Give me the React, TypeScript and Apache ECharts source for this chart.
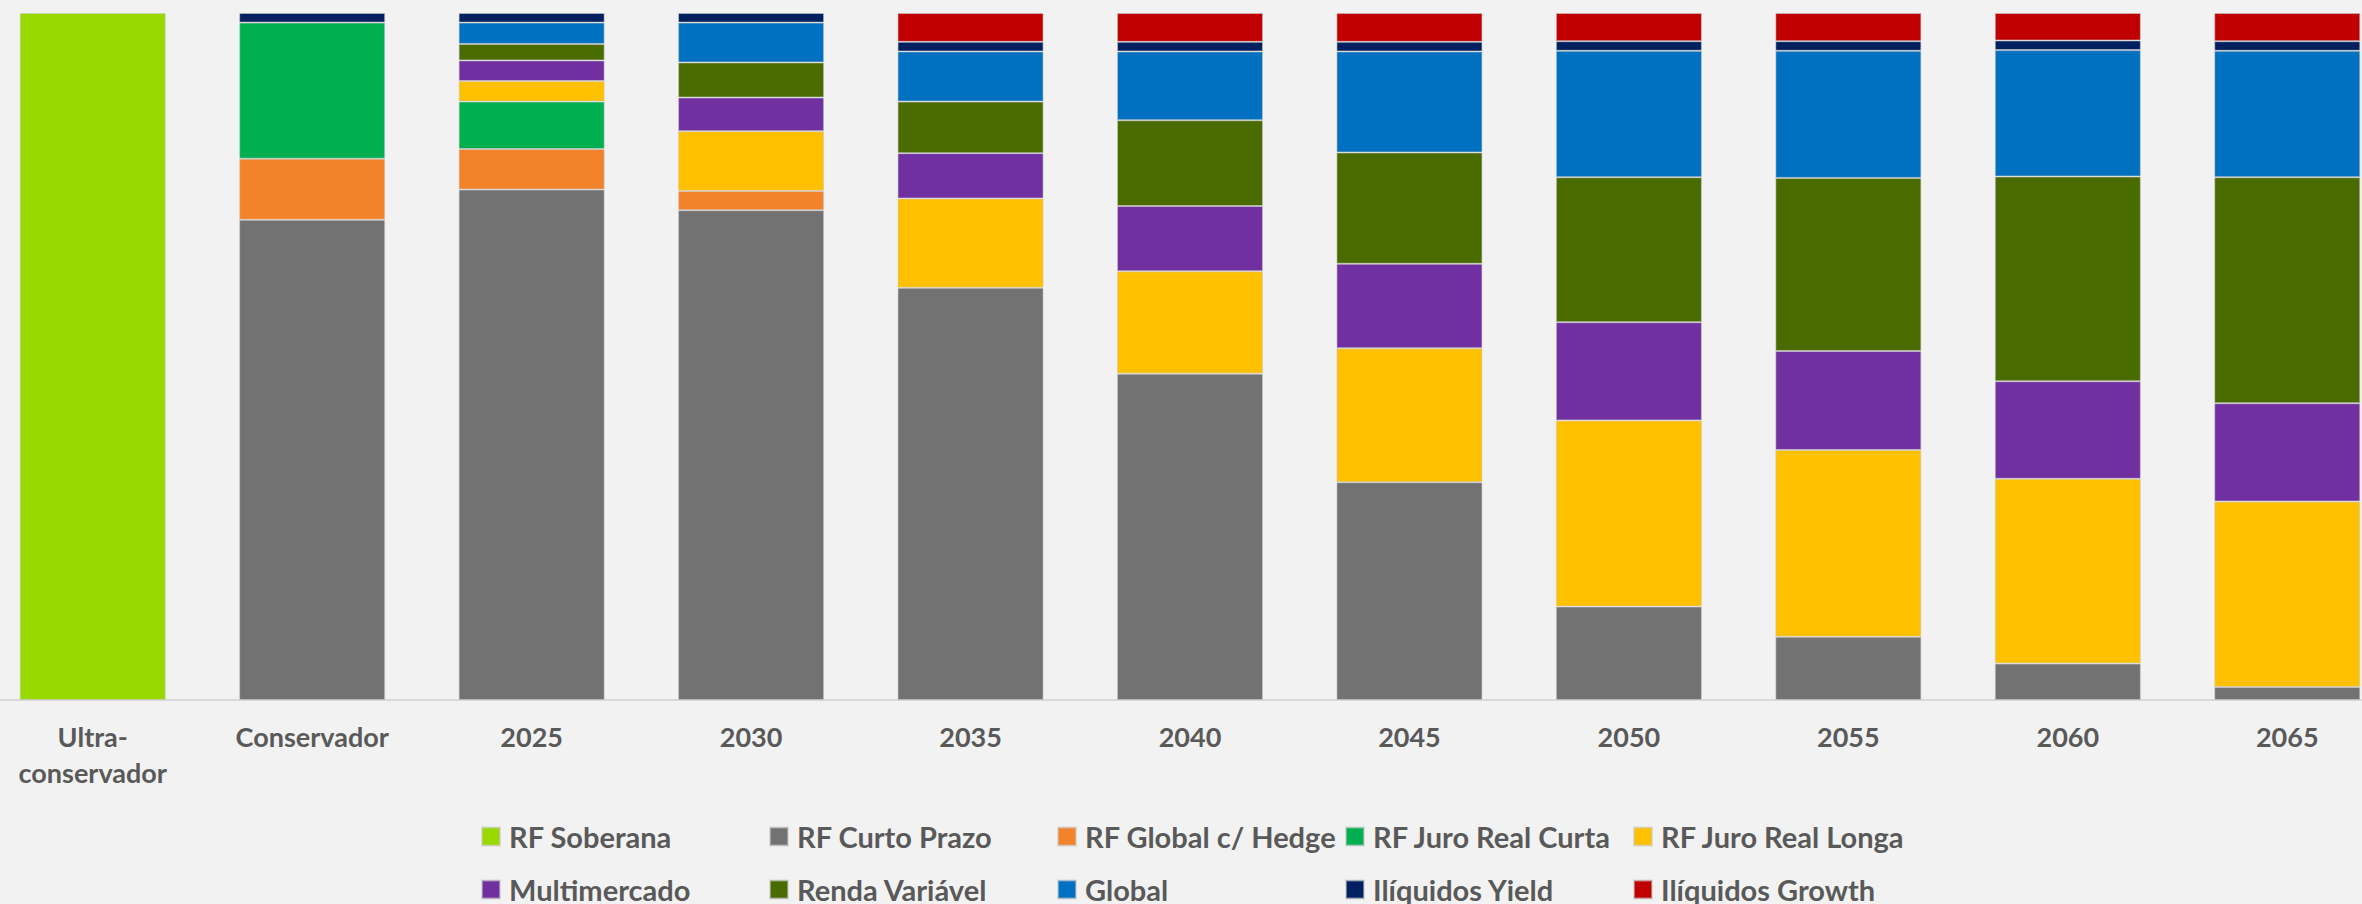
import React, { useEffect, useRef } from "react";
import * as echarts from "echarts";

const categories = ["Ultra-\nconservador", "Conservador", "2025", "2030", "2035", "2040", "2045", "2050", "2055", "2060", "2065"];

const seriesNames = [
  "RF Soberana",
  "RF Curto Prazo",
  "RF Global c/ Hedge",
  "RF Juro Real Curta",
  "RF Juro Real Longa",
  "Multimercado",
  "Renda Variável",
  "Global",
  "Ilíquidos Yield",
  "Ilíquidos Growth",
];

const colors = ["#99D900", "#727272", "#F2832A", "#00B050", "#FFC000", "#7030A0", "#4A6B00", "#0070C0", "#002060", "#C00000"];

const rfSoberana = [100, 0, 0, 0, 0, 0, 0, 0, 0, 0, 0];
const rfCurtoPrazo = [0, 69.9, 74.3, 71.3, 60.0, 47.5, 31.7, 13.6, 9.2, 5.3, 1.9];
const rfGlobalHedge = [0, 8.9, 5.9, 2.8, 0, 0, 0, 0, 0, 0, 0];
const rfJuroRealCurta = [0, 19.8, 6.9, 0, 0, 0, 0, 0, 0, 0, 0];
const rfJuroRealLonga = [0, 0, 3.0, 8.7, 13.0, 14.9, 19.5, 27.1, 27.2, 26.9, 27.0];
const multimercado = [0, 0, 3.0, 4.9, 6.6, 9.5, 12.3, 14.3, 14.4, 14.2, 14.3];
const rendaVariavel = [0, 0, 2.4, 5.1, 7.5, 12.5, 16.2, 21.1, 25.2, 29.8, 32.9];
const global = [0, 0, 3.1, 5.8, 7.3, 10.0, 14.7, 18.4, 18.5, 18.4, 18.4];
const iliquidosYield = [0, 1.4, 1.4, 1.4, 1.4, 1.4, 1.4, 1.4, 1.4, 1.4, 1.4];
const iliquidosGrowth = [0, 0, 0, 0, 4.2, 4.2, 4.2, 4.1, 4.1, 4.0, 4.1];

const seriesValues = [
  rfSoberana,
  rfCurtoPrazo,
  rfGlobalHedge,
  rfJuroRealCurta,
  rfJuroRealLonga,
  multimercado,
  rendaVariavel,
  global,
  iliquidosYield,
  iliquidosGrowth,
];

const FONT = "Lato";
const TEXT_COLOR = "#595959";
const OFFSET_X = -17; // the reference's plot area starts slightly left of the picture
const CHART_W = 2414;
const CHART_H = 904;

export default function App() {
  const ref = useRef<HTMLDivElement>(null);

  useEffect(() => {
    document.body.style.margin = "0";
    if (!ref.current) return;
    const chart = echarts.init(ref.current, undefined, { renderer: "svg" });

    const series = seriesNames.map((name, i) => ({
      name,
      type: "bar",
      stack: "total",
      barWidth: 146,
      itemStyle: {
        color: colors[i],
        borderColor: "rgba(200,200,200,0.55)",
        borderWidth: 1,
      },
      data: seriesValues[i].map((v) => (v === 0 ? null : v)),
    }));

    const legends = seriesNames.map((name, i) => {
      const col = i % 5;
      const row = Math.floor(i / 5);
      return {
        orient: "horizontal",
        left: 481 - OFFSET_X + 288 * col,
        top: row === 0 ? 822 : 875,
        padding: 0,
        itemWidth: 18,
        itemHeight: 18,
        icon: "rect",
        selectedMode: false,
        data: [name],
        textStyle: {
          fontFamily: FONT,
          fontWeight: "bold",
          fontSize: 29,
          lineHeight: 28,
          color: TEXT_COLOR,
          padding: [0, 0, 0, 4],
        },
      };
    });

    chart.setOption({
      animation: false,
      backgroundColor: "#F2F2F2",
      grid: { left: 0, right: 0, top: 13, bottom: 204, containLabel: false },
      legend: legends,
      xAxis: {
        type: "category",
        data: categories,
        axisLine: { show: true, lineStyle: { color: "#D9D9D9", width: 2 } },
        axisTick: { show: false },
        axisLabel: {
          interval: 0,
          margin: 18,
          fontFamily: FONT,
          fontWeight: "bold",
          fontSize: 27,
          lineHeight: 36,
          color: TEXT_COLOR,
        },
      },
      yAxis: {
        type: "value",
        min: 0,
        max: 100,
        show: false,
        splitLine: { show: false },
      },
      series,
    });

    return () => chart.dispose();
  }, []);

  return (
    <div style={{ position: "absolute", left: 0, top: 0, width: 2362, height: 904, overflow: "hidden", background: "#F2F2F2" }}>
      <div ref={ref} style={{ position: "absolute", left: OFFSET_X, top: 0, width: CHART_W, height: CHART_H }} />
    </div>
  );
}
